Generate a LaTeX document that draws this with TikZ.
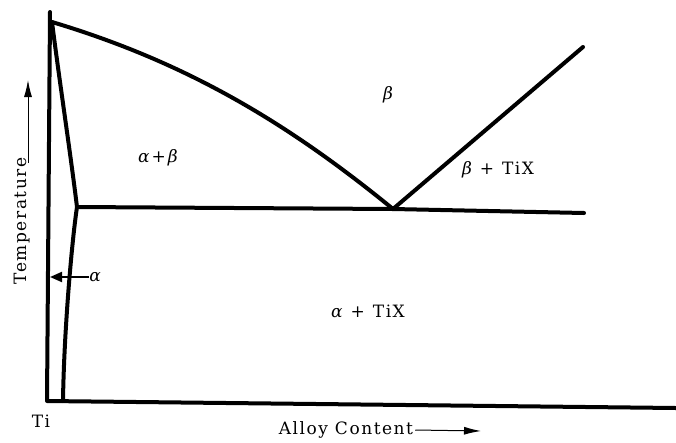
\documentclass[tikz,border=0pt]{standalone}
\usepackage{fontspec}
\setmainfont{DejaVu Serif}
\usetikzlibrary{arrows.meta}
\begin{document}
\begin{tikzpicture}[x=1pt,y=-1pt,
  phase/.style={line width=4pt, line cap=round, line join=round},
  lbl/.style={font=\fontsize{17}{19}\selectfont\addfontfeatures{LetterSpace=9}, inner sep=0pt},
  gr/.style={font=\fontsize{17}{19}\selectfont\itshape},
  thinarrow/.style={line width=1pt, -{Latex[length=17pt,width=8pt]}}]
\useasboundingbox (0,0) rectangle (676,442);
% key points
\coordinate (TL) at (50,12);
\coordinate (BL) at (47,401);
\coordinate (BR) at (676,408);
\coordinate (A0) at (52,22);
\coordinate (S1) at (77,207);
\coordinate (S2) at (63,401);
\coordinate (E) at (393,209);
\coordinate (HR) at (584,213);
\coordinate (TR) at (583,47);
% axes
\draw[phase] (TL) -- (BL) -- (BR);
% alpha solvus
\draw[phase] (A0) .. controls (60,85) and (70,150) .. (S1)
             .. controls (72,240) and (64,330) .. (S2);
% eutectoid line
\draw[phase] (S1) -- (E) -- (HR);
% beta transus
\draw[phase] (A0) .. controls (182,61) and (283,119) .. (E);
% beta / beta+TiX boundary
\draw[phase] (E) -- (TR);
% labels
\node[lbl, gr] (beta) at (388,95) {β};
\node[lbl] (ab) at (158,158) {{\itshape α}\kern2pt+\kern2pt{\itshape β}};
\node[lbl] (bt) at (498,170) {{\itshape β}\hspace{8pt}+\hspace{8pt}TiX};
\node[lbl] (at) at (368,311) {{\itshape α}\hspace{8pt}+\hspace{8pt}TiX};
\node[lbl] (ti) at (41,421) {Ti};
\node[lbl, gr] (alab) at (95,277) {α};
\coordinate (atip) at (50,277);
\draw[line width=2pt, -{Triangle[length=12pt,width=10pt]}] (alab.west) -- (atip);
% axis titles
\node[lbl, rotate=90] (temp) at (22,221) {Temperature};
\coordinate (tstart) at (28,163);
\coordinate (ttip) at (28,80);
\draw[thinarrow] (tstart) -- (ttip);
\node[lbl] (alloy) at (346,430) {Alloy Content};
\coordinate (cstart) at ([xshift=2pt]alloy.east);
\coordinate (ctip) at (481,431);
\draw[thinarrow] (cstart) -- (ctip);
\end{tikzpicture}
\end{document}
